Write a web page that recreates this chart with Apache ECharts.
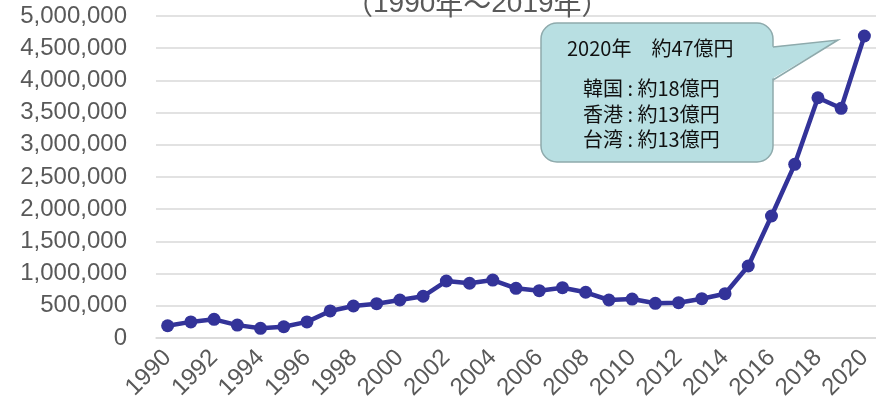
<!DOCTYPE html>
<html>
<head>
<meta charset="utf-8">
<script src="https://cdn.jsdelivr.net/npm/echarts@6/dist/echarts.min.js"></script>
<style>
html, body { margin: 0; padding: 0; background: #fff; }
#chart { width: 876px; height: 406px; }
</style>
</head>
<body>
<div id="chart"></div>
<script>
// 年（横軸）
var years = ['1990', '1991', '1992', '1993', '1994', '1995', '1996', '1997', '1998', '1999',
    '2000', '2001', '2002', '2003', '2004', '2005', '2006', '2007', '2008', '2009',
    '2010', '2011', '2012', '2013', '2014', '2015', '2016', '2017', '2018', '2019', '2020'];
// 値
var values = [190000, 250000, 290000, 200000, 150000, 175000, 250000, 420000, 497000, 533000,
    590000, 648000, 885000, 850000, 900000, 772000, 735000, 781000, 710000, 590000,
    605000, 539000, 548000, 610000, 688000, 1118000, 1894000, 2697000, 3731000, 3567000, 4689000];
var titleParts = ['（', '1990', '年〜', '2019', '年）'];
var calloutHead = '2020年　約47億円';
var calloutLines = ['韓国 : 約18億円', '香港 : 約13億円', '台湾 : 約13億円'];

var lineColor = '#333399';
var gridColor = '#d9d9d9';
var labelColor = '#595959';
var bubbleFill = '#b8dfe2';
var bubbleLine = '#8eaaac';
var jpFont = 'Noto Sans CJK JP';

var dom = document.getElementById('chart');
var myChart = echarts.init(dom);

// 数字は Liberation Sans、記号と漢字は CJK フォント
var titleRich = titleParts.map(function(p, i) {
    return (i % 2 ? '{d|' : '{j|') + p + '}';
}).join('');

var option = {
    animation: false,
    title: [{ // タイトル（上が切れている）
        text: titleRich,
        left: 345,
        top: -10,
        padding: 0,
        z: 20,
        textStyle: {
            fontSize: 28, fontWeight: 'normal', color: labelColor, lineHeight: 28,
            rich: {
                d: { fontSize: 28, color: labelColor, fontFamily: 'Liberation Sans', lineHeight: 28 },
                j: { fontSize: 28, color: labelColor, fontFamily: jpFont, lineHeight: 28 }
            }
        }
    }, { // 吹き出し 1行目
        text: calloutHead,
        left: 567,
        top: 38,
        padding: 0,
        z: 20,
        textStyle: { fontSize: 20, fontWeight: 'normal', color: '#111', lineHeight: 20, fontFamily: jpFont }
    }, { // 吹き出し 内訳
        text: calloutLines.join('\n'),
        left: 583,
        top: 76,
        padding: 0,
        z: 20,
        textStyle: { fontSize: 20, fontWeight: 'normal', color: '#111', lineHeight: 25.5, fontFamily: jpFont }
    }],
    grid: { left: 156, right: 0, top: 16, bottom: 68 },
    xAxis: {
        type: 'category',
        data: years,
        boundaryGap: true,
        axisTick: { show: false },
        axisLine: { lineStyle: { color: gridColor, width: 1.5 } },
        axisLabel: {
            interval: 1,
            rotate: 45,
            margin: 16,
            fontSize: 24,
            color: labelColor,
            fontFamily: 'Liberation Sans'
        }
    },
    yAxis: {
        type: 'value',
        min: 0,
        max: 5000000,
        interval: 500000,
        axisLine: { show: false },
        axisTick: { show: false },
        splitLine: { lineStyle: { color: gridColor, width: 1.5 } },
        axisLabel: {
            margin: 29,
            fontSize: 24,
            color: labelColor,
            fontFamily: 'Liberation Sans',
            formatter: function(v) {
                return v.toString().replace(/\B(?=(\d{3})+(?!\d))/g, ',');
            }
        }
    },
    series: [{
        type: 'line',
        data: values,
        symbol: 'circle',
        symbolSize: 13,
        lineStyle: { color: lineColor, width: 4.5 },
        itemStyle: { color: lineColor }
    }],
    graphic: [
        { // 吹き出し本体
            type: 'rect', z: 10,
            shape: { x: 541, y: 23, width: 232, height: 139, r: 16 },
            style: { fill: bubbleFill, stroke: bubbleLine, lineWidth: 1.5 }
        },
        { // 吹き出しの尾（塗り）
            type: 'polygon', z: 11,
            shape: { points: [[770, 47], [838, 40], [770, 80]] },
            style: { fill: bubbleFill }
        },
        { // 吹き出しの尾（線）
            type: 'polyline', z: 11,
            shape: { points: [[773, 47], [838, 40], [773, 80]] },
            style: { stroke: bubbleLine, lineWidth: 1.5, fill: null }
        }
    ]
};
myChart.setOption(option, true);
</script>
</body>
</html>
